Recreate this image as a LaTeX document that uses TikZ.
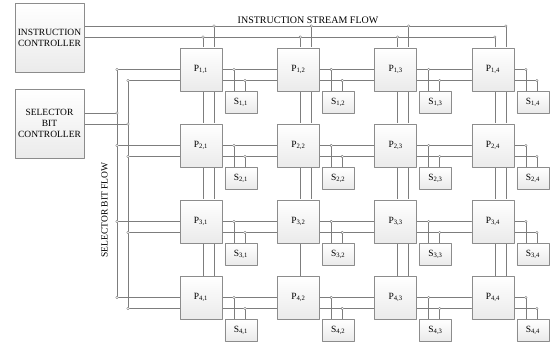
\documentclass[tikz,border=0pt]{standalone}
\usepackage{fontspec}
\setmainfont{Liberation Serif}
\usetikzlibrary{backgrounds}
\definecolor{wire}{RGB}{125,125,125}
\definecolor{edge}{RGB}{140,140,140}
\begin{document}
\begin{tikzpicture}[x=1pt,y=-1pt,line join=round,font=\fontsize{9.5}{11}\selectfont,
	box/.style={draw=edge,top color=white,bottom color=gray!16,inner sep=0pt},
	pe/.style={box,minimum width=42pt,minimum height=43pt},
	sel/.style={box,minimum width=32pt,minimum height=21.5pt,anchor=north west,xshift=2.5pt},
	ctrl/.style={box,minimum width=69pt,minimum height=69pt,align=center},
	jn/.style={circle,draw=wire,fill=white,inner sep=0pt,minimum size=2.6pt},
	bus/.style={draw=wire,line width=0.7pt}]
	\useasboundingbox (0,0) rectangle (556,347);
	\node[ctrl] (ic) at (49.5,37.5) {INSTRUCTION\\CONTROLLER};
	\node[ctrl] (sc) at (49.5,123.5) {SELECTOR\\BIT\\CONTROLLER};
	\node (isf) at (308,20) {\fontsize{10}{12}\selectfont INSTRUCTION STREAM FLOW};
	\node[rotate=90] (sbf) at (104.5,210) {SELECTOR BIT FLOW};
	\foreach \i in {1,...,4}
		\foreach \j in {1,...,4}{
			\pgfmathsetmacro\cx{201+97.3*(\j-1)}
			\pgfmathsetmacro\cy{69.5+76*(\i-1)}
			\node[pe] (p\i\j) at (\cx,\cy) {P\textsubscript{\i,\j}};
			\node[sel] (s\i\j) at (p\i\j.south east) {S\textsubscript{\i,\j}};
			\coordinate (a\i\j) at (\cx+33,\cy);
			\coordinate (b\i\j) at (\cx+44,\cy+11);
		}
	\foreach \k in {1,...,4}{
		\pgfmathsetmacro\cx{201+97.3*(\k-1)}
		\pgfmathsetmacro\cy{69.5+76*(\k-1)}
		\coordinate (ta\k) at (\cx+2,37);
		\coordinate (tb\k) at (\cx+13,26);
		\coordinate (la\k) at (117,\cy);
		\coordinate (lb\k) at (128,\cy+11);
	}
	\coordinate (sa) at (117,113);
	\coordinate (sb) at (128,124);
	% wires behind the boxes
	\begin{scope}[on background layer]
		\draw[bus] (ic.east |- tb1) -- (tb4);
		\draw[bus] (ic.east |- ta1) -- (ta4);
		\draw[bus] (sc.east |- sa) -- (sa);
		\draw[bus] (sc.east |- sb) -- (sb);
		\draw[bus] (la1) -- (la4);
		\draw[bus] (lb1) -- (lb4);
		\foreach \k in {1,...,4}{
			\draw[bus] (ta\k) -- (ta\k |- p4\k.north);
			\draw[bus] (la\k) -- (a\k4);
			\draw[bus] (lb\k) -- (b\k4);
		}
		\foreach \k in {1,3,4}
			\draw[bus] (tb\k) -- (tb\k |- p4\k.north);
		\draw[bus] (tb2) -- (tb2 |- p32.south);
		\foreach \i in {1,...,4}
			\foreach \j in {1,...,4}{
				\draw[bus] (a\i\j) -- (a\i\j |- s\i\j.north);
				\draw[bus] (b\i\j) -- (b\i\j |- s\i\j.north);
			}
	\end{scope}
	% junction dots
	\foreach \k in {1,...,4}{
		\node[jn] at (ta\k) {};
		\node[jn] at (tb\k) {};
		\node[jn] at (la\k) {};
		\node[jn] at (lb\k) {};
		\foreach \j in {1,...,4}{
			\node[jn] at (a\k\j) {};
			\node[jn] at (b\k\j) {};
		}
	}
	\node[jn] at (sa) {};
	\node[jn] at (sb) {};
\end{tikzpicture}
\end{document}
